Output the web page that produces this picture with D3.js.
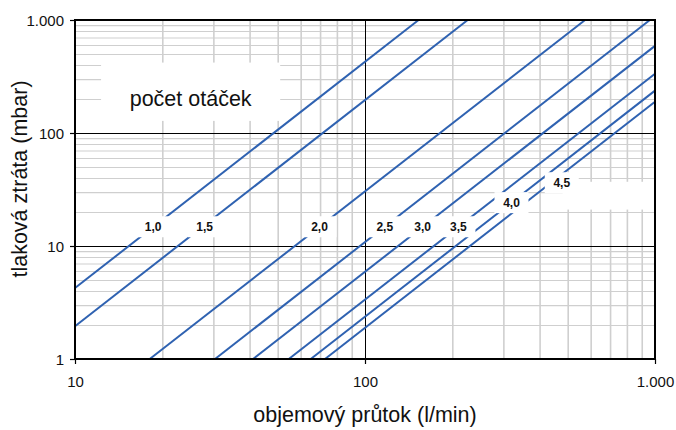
<!DOCTYPE html>
<html><head><meta charset="utf-8">
<script src="https://cdn.jsdelivr.net/npm/d3@7"></script>
<style>
html,body{margin:0;padding:0;background:#fff;}
svg{display:block;font-family:"Liberation Sans",Arial,sans-serif;}
</style></head>
<body><svg id="c" width="676" height="430"></svg>
<script>
// ---- data ----
const speeds = ["1,0","1,5","2,0","2,5","3,0","3,5","4,0","4,5"];
const flowStart = [10, 10, 18.1, 30.4, 41.1, 54.6, 65, 72.8];
const lossStart = [4.25, 1.95, 1, 1, 1, 1, 1, 1];
const flowEnd   = [153, 226, 574, 960, 1000, 1000, 1000, 1000];
const lossEnd   = [1000, 1000, 1000, 1000, 590, 335, 237, 189];
const labelFlow = [18.6, 28, 69.7, 117, 158, 210, 320, 477];
const labelLoss = [14.8, 14.8, 14.8, 14.8, 14.8, 14.8, 24.2, 36.3];
const xTicks = [10, 100, 1000];
const yTicks = [1, 10, 100, 1000];
const xTitle = "objemový průtok (l/min)";
const yTitle = "tlaková ztráta (mbar)";
const noteText = "počet otáček";

// ---- layout ----
const L = 75, R = 655, T = 20, B = 359;
const svg = d3.select("#c");
const x = d3.scaleLog().domain([10, 1000]).range([L, R]);
const y = d3.scaleLog().domain([1, 1000]).range([B, T]);
const loc = d3.formatLocale({decimal: ",", thousands: ".", grouping: [3], currency: ["", ""]});
const fmt = loc.format(",");

const minor = (decs) => decs.flatMap(d => d3.range(2, 10).map(k => k * d));
const xMinor = minor([10, 100]);
const yMinor = minor([1, 10, 100]);

// minor grid
const g = svg.append("g");
g.append("g").attr("transform", `translate(0,${B})`)
  .call(d3.axisBottom(x).tickValues(xMinor).tickSize(-(B - T)).tickFormat(""))
  .call(a => a.select(".domain").remove())
  .selectAll("line").attr("stroke", "#cfcfcf").attr("stroke-width", 1.6);
g.append("g").attr("transform", `translate(${L},0)`)
  .call(d3.axisLeft(y).tickValues(yMinor).tickSize(-(R - L)).tickFormat(""))
  .call(a => a.select(".domain").remove())
  .selectAll("line").attr("stroke", "#cfcfcf").attr("stroke-width", 1.1);
// major grid
g.append("g").attr("transform", `translate(0,${B})`)
  .call(d3.axisBottom(x).tickValues([100]).tickSize(-(B - T)).tickFormat(""))
  .call(a => a.select(".domain").remove())
  .selectAll("line").attr("stroke", "#000").attr("stroke-width", 1);
g.append("g").attr("transform", `translate(${L},0)`)
  .call(d3.axisLeft(y).tickValues([10, 100]).tickSize(-(R - L)).tickFormat(""))
  .call(a => a.select(".domain").remove())
  .selectAll("line").attr("stroke", "#000").attr("stroke-width", 1);

// white blank areas over the grid
const blanks = [
  [x(12.3), y(420), x(51), y(128)],
  [x(480), y(37), x(1000), y(21)],
  [x(480), y(22.5), x(590), y(34.5)]
];
svg.append("g").selectAll("rect").data(blanks).join("rect")
  .attr("x", d => d[0]).attr("y", d => d[1])
  .attr("width", d => d[2] - d[0]).attr("height", d => d[3] - d[1])
  .attr("fill", "#fff");
svg.append("text").attr("x", (x(12.3) + x(51)) / 2).attr("y", y(175))
  .attr("text-anchor", "middle").attr("font-size", 21.5).attr("fill", "#111")
  .text(noteText);

// series lines
const series = speeds.map((s, i) => ({name: s,
  pts: [[flowStart[i], lossStart[i]], [flowEnd[i], lossEnd[i]]],
  lab: [labelFlow[i], labelLoss[i]]}));
const line = d3.line().x(d => x(d[0])).y(d => y(d[1]));
svg.append("g").selectAll("path").data(series).join("path")
  .attr("d", d => line(d.pts)).attr("fill", "none")
  .attr("stroke", "#2f62b1").attr("stroke-width", 2);

// labels with white boxes
const lg = svg.append("g").selectAll("g").data(series).join("g")
  .attr("transform", d => `translate(${x(d.lab[0])},${y(d.lab[1])})`);
lg.append("rect").attr("x", -17).attr("y", -10.5).attr("width", 34).attr("height", 21).attr("fill", "#fff");
lg.append("text").attr("text-anchor", "middle").attr("dy", "0.36em")
  .attr("font-size", 12).attr("font-weight", "bold").attr("fill", "#111")
  .text(d => d.name);

// border
svg.append("rect").attr("x", L).attr("y", T).attr("width", R - L).attr("height", B - T)
  .attr("fill", "none").attr("stroke", "#000").attr("stroke-width", 2);

// axes
const ax = svg.append("g").attr("transform", `translate(0,${B})`)
  .call(d3.axisBottom(x).tickValues(xTicks).tickFormat(fmt).tickSize(5).tickSizeOuter(0));
const ay = svg.append("g").attr("transform", `translate(${L},0)`)
  .call(d3.axisLeft(y).tickValues(yTicks).tickFormat(fmt).tickSize(5).tickSizeOuter(0));
[ax, ay].forEach(a => {
  a.select(".domain").remove();
  a.selectAll("line").attr("stroke", "#000").attr("stroke-width", 1.2);
  a.selectAll("text").attr("font-size", 15).attr("fill", "#111")
    .attr("font-family", "Liberation Sans, Arial, sans-serif");
});
ax.selectAll("text").attr("dy", null).attr("y", 28);
ay.selectAll("text").attr("x", -11).attr("dy", "0.36em");

// titles
svg.append("text").attr("x", (L + R) / 2).attr("y", 422).attr("text-anchor", "middle")
  .attr("font-size", 21.5).attr("fill", "#111").text(xTitle);
svg.append("text").attr("transform", `translate(27,179) rotate(-90)`).attr("text-anchor", "middle")
  .attr("font-size", 21.5).attr("fill", "#111").text(yTitle);
</script></body></html>
